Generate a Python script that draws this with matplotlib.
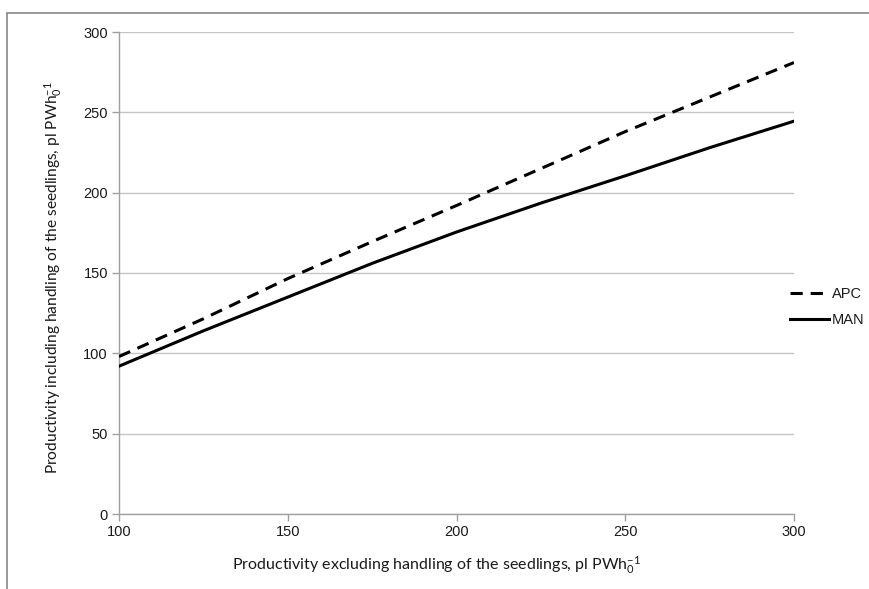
import matplotlib
matplotlib.use("Agg")
import matplotlib.pyplot as plt
from matplotlib.patches import Rectangle

x_vals = [100, 125, 150, 175, 200, 225, 250, 275, 300]
apc = [98, 121.5, 146.5, 169.5, 192, 215, 238, 259.5, 281]
man = [92, 114, 135, 156, 175.5, 193.5, 210.5, 228, 244.5]
series_names = ["APC", "MAN"]
x_ticks = [100, 150, 200, 250, 300]
y_ticks = [0, 50, 100, 150, 200, 250, 300]
x_label = "Productivity excluding handling of the seedlings, pl PWh$\\mathregular{_0^{-1}}$"
y_label = "Productivity including handling of the seedlings, pl PWh$\\mathregular{_0^{-1}}$"

plt.rcParams['mathtext.fontset'] = 'custom'
plt.rcParams['mathtext.rm'] = 'Lato'

fig = plt.figure(figsize=(8.69, 5.89), dpi=100)
fig.patches.append(Rectangle((7/869, -0.1), 1.2, (589-13)/589 + 0.1, transform=fig.transFigure,
                             fill=False, edgecolor='#868686', linewidth=1.2, zorder=0))
ax = fig.add_axes([119/869, 75/589, (794-119)/869, (514-32)/589])

ax.plot(x_vals, apc, color='black', lw=2.2, dashes=(4, 2.6), dash_capstyle='butt', label=series_names[0], zorder=3)
ax.plot(x_vals, man, color='black', lw=2.2, label=series_names[1], zorder=3)

ax.set_xlim(100, 300)
ax.set_ylim(0, 300)
ax.set_xticks(x_ticks)
ax.set_yticks(y_ticks)
ax.yaxis.grid(True, color='#c4c4c4', lw=1.0)
ax.set_axisbelow(True)
for s in ['top', 'right']:
    ax.spines[s].set_visible(False)
for s in ['left', 'bottom']:
    ax.spines[s].set_color('#a0a0a0')
    ax.spines[s].set_linewidth(1.0)
ax.tick_params(axis='both', direction='out', length=5, width=1.0, color='#a0a0a0',
               labelsize=10.5, labelcolor='#1a1a1a', pad=3)
for lab in ax.get_xticklabels() + ax.get_yticklabels():
    lab.set_fontfamily('Liberation Sans')

ax.set_xlabel(x_label, fontfamily='Lato', fontsize=11.5, color='#1a1a1a')
ax.xaxis.set_label_coords(0.471, -0.082)
ax.set_ylabel(y_label, fontfamily='Lato', fontsize=11.2, color='#1a1a1a')
ax.yaxis.set_label_coords(-0.081, 0.49)

leg = fig.legend(loc='center left', bbox_to_anchor=(790/869, 1 - 307/589), frameon=False,
                 prop={'family': 'Liberation Sans', 'size': 10.5}, handlelength=2.7,
                 handletextpad=0.15, labelspacing=0.85, borderaxespad=0, borderpad=0)
for t in leg.get_texts():
    t.set_color('#1a1a1a')

fig.savefig("out.png", dpi=100)
